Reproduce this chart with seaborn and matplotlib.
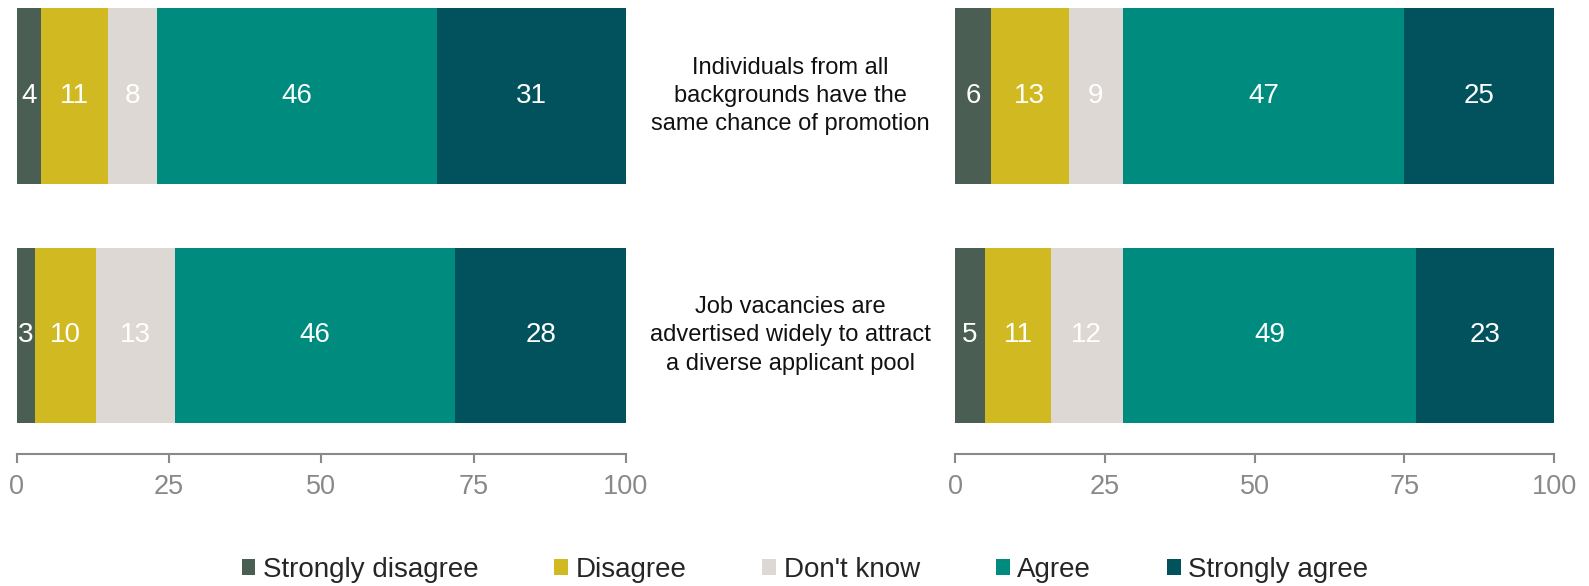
import matplotlib
matplotlib.use("Agg")
import matplotlib.pyplot as plt
import matplotlib.transforms as mtransforms
from matplotlib.patches import Patch
import pandas as pd
import seaborn as sns

# Survey responses (%), one list per response option
categories = ["Strongly disagree", "Disagree", "Don't know", "Agree", "Strongly agree"]
colors = ["#4b5e53", "#d0b921", "#ddd8d4", "#008b7f", "#02525e"]
statements = [
    "Individuals from all\nbackgrounds have the\nsame chance of promotion",
    "Job vacancies are\nadvertised widely to attract\na diverse applicant pool",
]
question_ids = ["promotion", "vacancies"]

left_values = {
    "promotion": [4, 11, 8, 46, 31],
    "vacancies": [3, 10, 13, 46, 28],
}
right_values = {
    "promotion": [6, 13, 9, 47, 25],
    "vacancies": [5, 11, 12, 49, 23],
}
x_ticks = [0, 25, 50, 75, 100]

sns.set_theme(style="white")
plt.rcParams["font.family"] = ["Liberation Sans", "DejaVu Sans"]

GRAY = "#898989"
W, H = 1589, 586
fig = plt.figure(figsize=(W / 100, H / 100), dpi=100)

ax_h = 454.3 / H
ax_bottom = 1 - ax_h
ax_left = fig.add_axes([16.7 / W, ax_bottom, 609.3 / W, ax_h])
ax_right = fig.add_axes([955 / W, ax_bottom, 599 / W, ax_h])


def to_frame(values):
    rows = []
    for q in question_ids:
        cum = 0
        for cat, v in zip(categories, values[q]):
            cum += v
            rows.append({"question": q, "category": cat, "value": v, "cum": cum})
    return pd.DataFrame(rows)


def draw_panel(ax, values):
    df = to_frame(values)
    # stacked bars: draw cumulative totals from the outermost segment inward
    for cat, col in reversed(list(zip(categories, colors))):
        sub = df[df["category"] == cat]
        sns.barplot(data=sub, x="cum", y="question", order=question_ids,
                    orient="h", color=col, width=0.733, errorbar=None,
                    saturation=1, linewidth=0, ax=ax)
    for i, q in enumerate(question_ids):
        sub = df[df["question"] == q]
        for _, r in sub.iterrows():
            ax.text(r["cum"] - r["value"] / 2, i, f"{r['value']:g}",
                    ha="center", va="center", color="white", fontsize=20)
    ax.set_xlim(0, 100)
    ax.set_ylim(1.497, -0.401)
    ax.set_xticks(x_ticks)
    ax.set_yticks([])
    ax.set_xlabel("")
    ax.set_ylabel("")
    for s in ["top", "left", "right"]:
        ax.spines[s].set_visible(False)
    ax.spines["bottom"].set_color(GRAY)
    ax.spines["bottom"].set_linewidth(1.5)
    ax.tick_params(axis="x", direction="out", length=6.5, width=1.5,
                   color=GRAY, labelcolor=GRAY, labelsize=19.5, pad=8,
                   bottom=True)


draw_panel(ax_left, left_values)
draw_panel(ax_right, right_values)

# statement labels between the two panels
trans = mtransforms.blended_transform_factory(fig.transFigure, ax_left.transData)
for i, text in enumerate(statements):
    fig.text(790.5 / W, i, text, transform=trans, ha="center", va="center",
             fontsize=17, color="#111111", linespacing=1.38)

handles = [Patch(facecolor=c, edgecolor="none", label=l) for l, c in zip(categories, colors)]
fig.legend(handles=handles, loc="center", bbox_to_anchor=(805 / W, 1 - 570 / H),
           ncol=5, frameon=False, fontsize=20, handlelength=0.5, handleheight=0.5,
           handletextpad=0.27, columnspacing=2.73, borderaxespad=0)

fig.savefig("out.png", dpi=100)
